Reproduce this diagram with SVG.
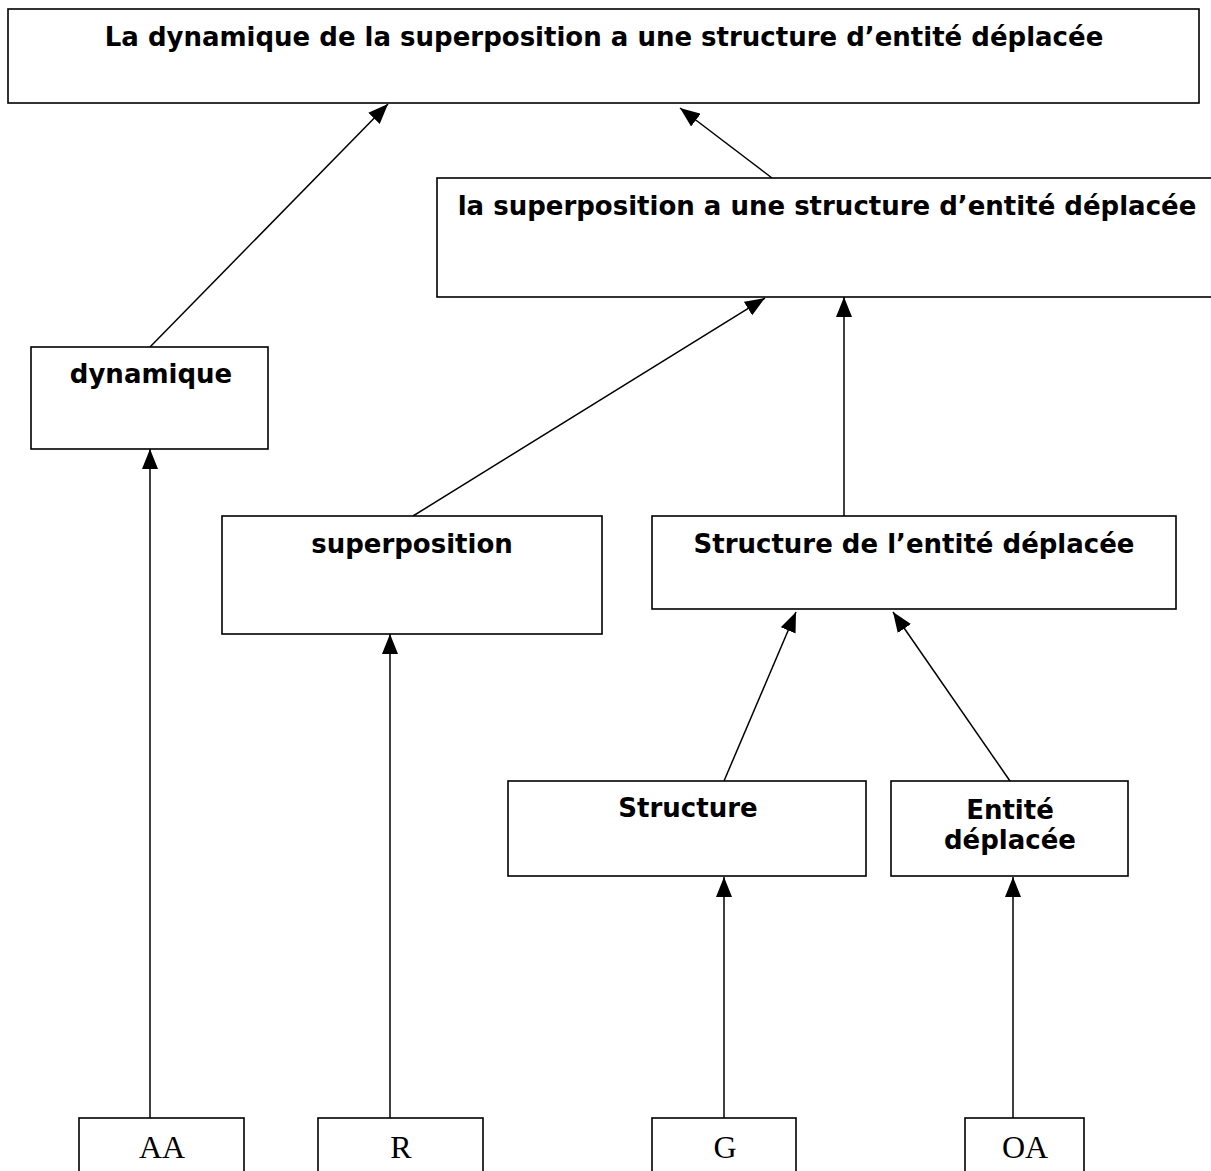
<svg xmlns="http://www.w3.org/2000/svg" width="1211" height="1171" viewBox="0 0 1211 1171">
  <style>
    .box { fill: #ffffff; stroke: #000000; stroke-width: 1.6; }
    .lbl { font-family: "DejaVu Sans", Verdana, sans-serif; font-weight: bold; font-size: 26px; fill: #000000; text-anchor: middle; }
    .src { font-family: "Liberation Serif", "Times New Roman", serif; font-size: 32px; fill: #000000; text-anchor: middle; }
    .edge { stroke: #000000; stroke-width: 1.5; fill: none; marker-end: url(#head); }
  </style>
  <defs>
    <marker id="head" markerUnits="userSpaceOnUse" markerWidth="20" markerHeight="16" refX="20" refY="8" orient="auto">
      <path d="M0,0 L20,8 L0,16 z" fill="#000000"/>
    </marker>
  </defs>
  <rect width="1211" height="1171" fill="#ffffff"/>

  <g id="connectors">
    <line class="edge" x1="150" y1="347" x2="388" y2="104"/>
    <line class="edge" x1="772" y1="178" x2="680" y2="108"/>
    <line class="edge" x1="413" y1="516" x2="765" y2="298"/>
    <line class="edge" x1="844" y1="516" x2="844" y2="297"/>
    <line class="edge" x1="724" y1="781" x2="796" y2="612"/>
    <line class="edge" x1="1010" y1="781" x2="893" y2="612"/>
    <line class="edge" x1="150" y1="1118" x2="150" y2="449"/>
    <line class="edge" x1="390" y1="1118" x2="390" y2="634"/>
    <line class="edge" x1="724" y1="1118" x2="724" y2="877"/>
    <line class="edge" x1="1013" y1="1118" x2="1013" y2="877"/>
  </g>

  <g id="node-dynamique-superposition-structure">
    <rect class="box" x="8" y="9" width="1191" height="94"/>
    <text class="lbl" x="604" y="46">La dynamique de la superposition a une structure d’entité déplacée</text>
  </g>

  <g id="node-superposition-structure">
    <rect class="box" x="437" y="178" width="790" height="119"/>
    <text class="lbl" x="827" y="215">la superposition a une structure d’entité déplacée</text>
  </g>

  <g id="node-dynamique">
    <rect class="box" x="31" y="347" width="237" height="102"/>
    <text class="lbl" x="151" y="383">dynamique</text>
  </g>

  <g id="node-superposition">
    <rect class="box" x="222" y="516" width="380" height="118"/>
    <text class="lbl" x="412" y="553">superposition</text>
  </g>

  <g id="node-structure-entite">
    <rect class="box" x="652" y="516" width="524" height="93"/>
    <text class="lbl" x="914" y="553">Structure de l’entité déplacée</text>
  </g>

  <g id="node-structure">
    <rect class="box" x="508" y="781" width="358" height="95"/>
    <text class="lbl" x="688" y="817">Structure</text>
  </g>

  <g id="node-entite">
    <rect class="box" x="891" y="781" width="237" height="95"/>
    <text class="lbl" x="1010" y="819">Entité</text>
    <text class="lbl" x="1010" y="849">déplacée</text>
  </g>

  <g id="node-AA">
    <rect class="box" x="79" y="1118" width="165" height="70"/>
    <text class="src" x="162" y="1158">AA</text>
  </g>

  <g id="node-R">
    <rect class="box" x="318" y="1118" width="165" height="70"/>
    <text class="src" x="401" y="1158">R</text>
  </g>

  <g id="node-G">
    <rect class="box" x="652" y="1118" width="144" height="70"/>
    <text class="src" x="725" y="1158">G</text>
  </g>

  <g id="node-OA">
    <rect class="box" x="965" y="1118" width="119" height="70"/>
    <text class="src" x="1025" y="1158">OA</text>
  </g>
</svg>
